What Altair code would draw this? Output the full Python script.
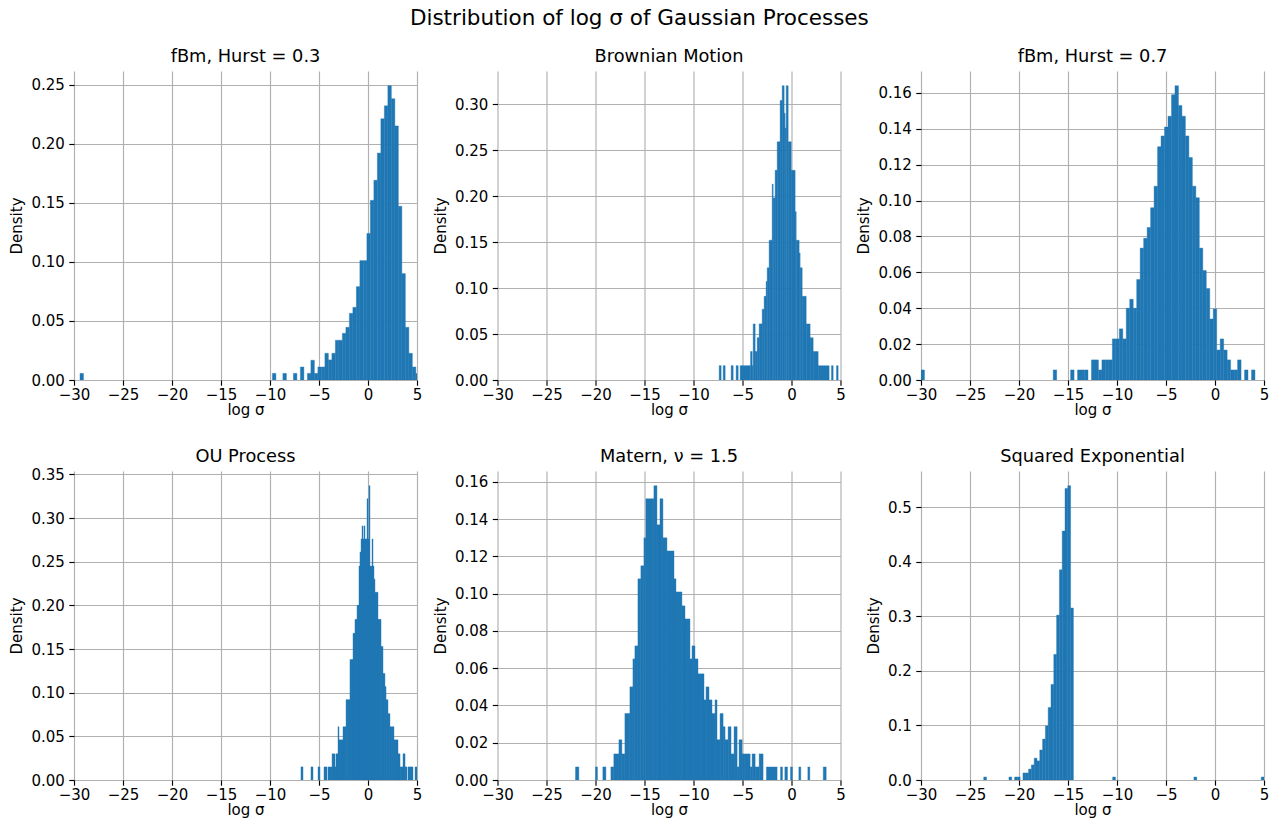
import altair as alt
import pandas as pd

BLUE = "#1f77b4"
FONT = "DejaVu Sans"

# ---------------- data (densities) ----------------
# Panel 1: fBm, Hurst = 0.3  (uniform bins: start, width, bin index, density)
p1_start, p1_width = -29.39, 0.357
p1_bin = [0, 55, 58, 61, 63, 65, 66, 67, 68, 69, 70, 71, 72, 73, 74, 75, 76, 77, 78,
          79, 80, 81, 82, 83, 84, 85, 86, 87, 88, 89, 90, 91, 92, 93, 94, 95, 96]
p1_dens = [0.0056, 0.0056, 0.0056, 0.0056, 0.011, 0.0056, 0.0167, 0.0056, 0.011, 0.011,
           0.0226, 0.017, 0.0226, 0.0336, 0.0336, 0.0395, 0.0446, 0.0564, 0.0615, 0.079,
           0.101, 0.101, 0.124, 0.152, 0.169, 0.192, 0.221, 0.232, 0.249, 0.238, 0.215,
           0.147, 0.090, 0.0446, 0.0226, 0.011, 0.0056]

# Panel 2: Brownian Motion (steps: lower edge, upper edge, density)
p2_lo = [-7.38, -6.97, -6.16, -5.65, -5.24, -4.18, -4.01, -3.91, -3.71, -3.50, -3.30, -2.99,
         -2.79, -2.59, -2.48, -2.28, -1.97, -1.87, -1.67, -1.46, -1.16, -0.95, -0.75, -0.65,
         -0.54, -0.34, -0.03, 0.37, 0.48, 0.78, 0.88, 1.09, 1.50, 1.90, 2.21, 2.72, 4.08, 4.59]
p2_hi = [-7.18, -6.77, -5.95, -5.44, -4.18, -4.01, -3.91, -3.71, -3.50, -3.30, -2.99, -2.79,
         -2.59, -2.48, -2.28, -1.97, -1.87, -1.67, -1.46, -1.16, -0.95, -0.75, -0.65, -0.54,
         -0.34, -0.03, 0.37, 0.48, 0.78, 0.88, 1.09, 1.50, 1.90, 2.21, 2.72, 3.84, 4.25, 4.76]
p2_dens = [0.0156, 0.0156, 0.0156, 0.0156, 0.0156, 0.031, 0.0156, 0.061, 0.031, 0.046, 0.061,
           0.077, 0.091, 0.107, 0.122, 0.152, 0.213, 0.198, 0.228, 0.259, 0.304, 0.320, 0.290,
           0.274, 0.320, 0.259, 0.228, 0.183, 0.152, 0.138, 0.122, 0.091, 0.061, 0.046, 0.031,
           0.0156, 0.0156, 0.0156]

# Panel 3: fBm, Hurst = 0.7 (uniform bins)
p3_start, p3_width = -30.0, 0.355
p3_bin = [0, 38, 43, 45, 46, 47, 49, 50, 51, 52, 53, 54, 55, 56, 57, 58, 59, 60, 61, 62, 63,
          64, 65, 66, 67, 68, 69, 70, 71, 72, 73, 74, 75, 76, 77, 78, 79, 80, 81, 82, 83, 84,
          85, 86, 87, 88, 89, 90, 91, 93, 95]
p3_dens = [0.0056, 0.0056, 0.0056, 0.0056, 0.0056, 0.0056, 0.0112, 0.0112, 0.0056, 0.0112,
           0.0112, 0.0112, 0.0229, 0.0229, 0.0285, 0.0229, 0.040, 0.045, 0.040, 0.056, 0.0735,
           0.079, 0.085, 0.096, 0.108, 0.130, 0.136, 0.141, 0.147, 0.159, 0.164, 0.153, 0.147,
           0.136, 0.124, 0.108, 0.1016, 0.0735, 0.061, 0.051, 0.034, 0.0396, 0.0167, 0.0229,
           0.0167, 0.0112, 0.0056, 0.0056, 0.0112, 0.0056, 0.0056]

# Panel 4: OU Process (steps)
p4_lo = [-6.84, -5.82, -5.10, -4.49, -4.08, -3.67, -3.37, -3.27, -3.06, -2.96, -2.55, -2.24,
         -1.84, -1.53, -1.33, -1.12, -0.92, -0.82, -0.71, -0.61, -0.51, -0.41, -0.31, -0.10,
         0.00, 0.10, 0.20, 0.41, 0.51, 0.61, 0.71, 1.02, 1.33, 1.53, 1.73, 1.84, 2.04, 2.24,
         2.65, 3.06, 3.27, 3.57, 3.78, 4.08, 4.80]
p4_hi = [-6.63, -5.61, -4.90, -4.18, -3.67, -3.37, -3.27, -3.06, -2.96, -2.55, -2.24, -1.84,
         -1.53, -1.33, -1.12, -0.92, -0.82, -0.71, -0.61, -0.51, -0.41, -0.31, -0.10, 0.00,
         0.10, 0.20, 0.41, 0.51, 0.61, 0.71, 1.02, 1.33, 1.53, 1.73, 1.84, 2.04, 2.24, 2.65,
         3.06, 3.27, 3.57, 3.78, 3.98, 4.59, 5.00]
p4_dens = [0.015, 0.015, 0.015, 0.015, 0.015, 0.030, 0.015, 0.030, 0.061, 0.046, 0.061, 0.092,
           0.138, 0.168, 0.184, 0.200, 0.245, 0.261, 0.276, 0.291, 0.276, 0.291, 0.276, 0.322,
           0.276, 0.337, 0.245, 0.276, 0.245, 0.230, 0.215, 0.184, 0.153, 0.122, 0.107, 0.092,
           0.076, 0.061, 0.046, 0.030, 0.015, 0.030, 0.015, 0.015, 0.015]

# Panel 5: Matern, nu = 1.5 (steps)
p5_lo = [-22.04, -20.00, -19.25, -18.43, -18.13, -17.61, -17.31, -17.00, -16.49, -16.18,
         -15.98, -15.67, -15.37, -15.06, -14.86, -14.04, -13.73, -13.42, -13.12, -12.71,
         -11.99, -11.79, -11.18, -10.87, -10.36, -10.15, -9.85, -9.54, -8.93, -8.72, -8.42,
         -8.11, -7.80, -7.60, -7.29, -6.98, -6.78, -6.47, -6.17, -5.86, -5.55, -5.35, -5.04,
         -4.84, -4.22, -4.02, -3.71, -3.30, -2.56, -1.12, -0.68, -0.10, 0.75, 1.67, 3.24]
p5_hi = [-21.70, -19.80, -18.94, -18.13, -17.61, -17.31, -17.00, -16.49, -16.18, -15.98,
         -15.67, -15.37, -15.06, -14.86, -14.04, -13.73, -13.42, -13.12, -12.71, -11.99,
         -11.79, -11.18, -10.87, -10.36, -10.15, -9.85, -9.54, -8.93, -8.72, -8.42, -8.11,
         -7.80, -7.60, -7.29, -6.98, -6.78, -6.47, -6.17, -5.86, -5.55, -5.35, -5.04, -4.84,
         -4.22, -4.02, -3.71, -3.30, -2.90, -1.47, -0.92, -0.41, 0.10, 0.95, 1.87, 3.54]
p5_dens = [0.007, 0.007, 0.007, 0.007, 0.014, 0.0216, 0.014, 0.0357, 0.050, 0.065, 0.072,
           0.108, 0.115, 0.130, 0.151, 0.158, 0.137, 0.151, 0.130, 0.123, 0.108, 0.101, 0.0935,
           0.0865, 0.065, 0.072, 0.065, 0.057, 0.043, 0.050, 0.043, 0.0357, 0.043, 0.0216,
           0.0357, 0.0286, 0.0216, 0.0286, 0.014, 0.0286, 0.007, 0.0216, 0.014, 0.014, 0.007,
           0.014, 0.007, 0.014, 0.007, 0.007, 0.007, 0.007, 0.007, 0.007, 0.007]

# Panel 6: Squared Exponential (uniform bins)
p6_start, p6_width = -23.6, 0.286
p6_bin = [0, 9, 11, 12, 14, 15, 16, 17, 18, 19, 20, 21, 22, 23, 24, 25, 26, 27, 28, 29, 30,
          31, 46, 75, 99]
p6_dens = [0.0055, 0.0055, 0.0055, 0.0055, 0.0129, 0.0129, 0.020, 0.0276, 0.040, 0.035,
           0.055, 0.075, 0.099, 0.133, 0.175, 0.230, 0.302, 0.385, 0.456, 0.534, 0.539, 0.315,
           0.0055, 0.0055, 0.0055]

titles = ["fBm, Hurst = 0.3", "Brownian Motion", "fBm, Hurst = 0.7",
          "OU Process", "Matern, ν = 1.5", "Squared Exponential"]
x_ticks = [-30, -25, -20, -15, -10, -5, 0, 5]
y_ticks = [
    [0.00, 0.05, 0.10, 0.15, 0.20, 0.25],
    [0.00, 0.05, 0.10, 0.15, 0.20, 0.25, 0.30],
    [0.00, 0.02, 0.04, 0.06, 0.08, 0.10, 0.12, 0.14, 0.16],
    [0.00, 0.05, 0.10, 0.15, 0.20, 0.25, 0.30, 0.35],
    [0.00, 0.02, 0.04, 0.06, 0.08, 0.10, 0.12, 0.14, 0.16],
    [0.0, 0.1, 0.2, 0.3, 0.4, 0.5],
]
y_formats = [".2f", ".2f", ".2f", ".2f", ".2f", ".1f"]
# panel-title offsets (panel 4's top tick label reaches above its plot area)
title_offsets = [5.5, 5.5, 5.5, 2.0, 5.5, 5.5]


def uniform(start, width, idx, dens):
    lo = [start + i * width for i in idx]
    return pd.DataFrame({"lo": lo, "hi": [v + width for v in lo], "dens": dens})


def steps(lo, hi, dens):
    return pd.DataFrame({"lo": lo, "hi": hi, "dens": dens})


frames = [
    uniform(p1_start, p1_width, p1_bin, p1_dens),
    steps(p2_lo, p2_hi, p2_dens),
    uniform(p3_start, p3_width, p3_bin, p3_dens),
    steps(p4_lo, p4_hi, p4_dens),
    steps(p5_lo, p5_hi, p5_dens),
    uniform(p6_start, p6_width, p6_bin, p6_dens),
]

W, H = 343, 309


def panel(df, title, yt, yf, toff):
    ymax = max(df["dens"]) * 1.05
    return alt.Chart(df).mark_rect(
        color=BLUE, stroke=BLUE, strokeWidth=0.4, clip=True
    ).encode(
        x=alt.X("lo:Q",
                scale=alt.Scale(domain=[-30, 5], nice=False, zero=False),
                axis=alt.Axis(values=x_ticks, title="log σ", format="d",
                              labelFlush=False, labelPadding=2, titlePadding=0)),
        x2="hi:Q",
        y=alt.Y("dens:Q",
                scale=alt.Scale(domain=[0, ymax], nice=False),
                axis=alt.Axis(values=yt, format=yf, title="Density",
                              labelFlush=False, labelPadding=4.5, titlePadding=6)),
        y2=alt.datum(0),
    ).properties(
        width=W, height=H,
        title=alt.TitleParams(title, fontSize=17.8, font=FONT, fontWeight="normal",
                              color="black", offset=toff),
    )


charts = [panel(f, t, yt, yf, o)
          for f, t, yt, yf, o in zip(frames, titles, y_ticks, y_formats, title_offsets)]

chart = alt.concat(
    *charts, columns=3, spacing={"row": 91, "column": 80.5}, bounds="flush"
).properties(
    title=alt.TitleParams("Distribution of log σ of Gaussian Processes", fontSize=21.5,
                          font=FONT, fontWeight="normal", color="black",
                          anchor="middle", offset=18),
    padding={"left": 1, "top": 0, "right": 0, "bottom": 3},
).configure_view(stroke=None).configure_axis(
    domain=False, grid=True, gridColor="#b0b0b0", gridWidth=1.15,
    tickColor="black", tickSize=5.2, tickWidth=1.15,
    labelFont=FONT, labelFontSize=15, labelColor="black",
    titleFont=FONT, titleFontSize=15, titleFontWeight="normal", titleColor="black",
    zindex=1,
)

chart.save("out.html", embed_options={"renderer": "svg", "actions": False})
